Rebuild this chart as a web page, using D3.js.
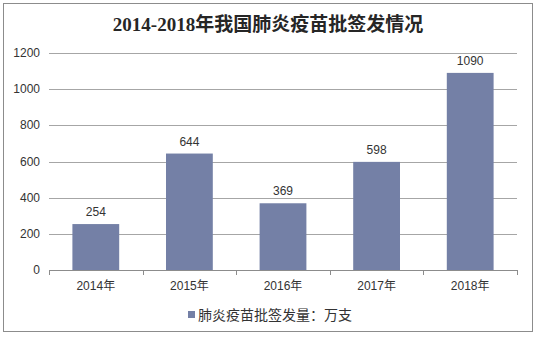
<!DOCTYPE html>
<html><head><meta charset="utf-8">
<script src="https://cdn.jsdelivr.net/npm/d3@7"></script>
<style>body{margin:0;background:#fff}svg{display:block}</style>
</head><body>
<svg id="c" width="537" height="338"></svg>
<script>
const categories = ["2014年","2015年","2016年","2017年","2018年"];
const values = [254, 644, 369, 598, 1090];
const yTicks = [0, 200, 400, 600, 800, 1000, 1200];
const title = "2014-2018年我国肺炎疫苗批签发情况";
const seriesName = "肺炎疫苗批签发量：万支";

const svg = d3.select("#c");
const sans = "Arial, 'Liberation Sans', 'Noto Sans CJK SC', sans-serif";
const color = "#7480a6";

svg.append("rect").attr("x",3.5).attr("y",3.5).attr("width",529).attr("height",328)
  .attr("fill","#fff").attr("stroke","#8c8c8c").attr("stroke-width",1);

svg.append("text").attr("x",268).attr("y",31).attr("text-anchor","middle")
  .attr("font-family","'Liberation Serif','Noto Sans CJK SC',serif").attr("font-weight","bold")
  .attr("font-size",19).attr("fill","#262626").text(title);

const x = d3.scaleBand().domain(categories).range([49,517]).paddingInner(0.5).paddingOuter(0.25);
const y = d3.scaleLinear().domain([0,1200]).range([270,53]);

// gridlines
svg.append("g").selectAll("line").data(yTicks.filter(d=>d>0)).join("line")
  .attr("x1",49).attr("x2",517).attr("y1",d=>Math.round(y(d))+0.5).attr("y2",d=>Math.round(y(d))+0.5)
  .attr("stroke","#a6a6a6");

// y labels
svg.append("g").selectAll("text").data(yTicks).join("text")
  .attr("x",40).attr("y",d=>y(d)+4).attr("text-anchor","end")
  .attr("font-family",sans).attr("font-size",12).attr("fill","#333").text(d=>d);

// bars
svg.append("g").selectAll("rect").data(values).join("rect")
  .attr("x",(d,i)=>x(categories[i])).attr("width",x.bandwidth())
  .attr("y",d=>y(d)).attr("height",d=>y(0)-y(d)).attr("fill",color);

// value labels
svg.append("g").selectAll("text").data(values).join("text")
  .attr("x",(d,i)=>x(categories[i])+x.bandwidth()/2).attr("y",d=>y(d)-8)
  .attr("text-anchor","middle").attr("font-family",sans).attr("font-size",12).attr("fill","#333").text(d=>d);

// x axis
const step = x.step();
const xa = svg.append("g");
xa.append("line").attr("x1",49).attr("x2",517).attr("y1",270.5).attr("y2",270.5).attr("stroke","#8c8c8c");
const bounds = d3.range(categories.length+1).map(i=>49 + i*(468/categories.length));
xa.selectAll("line.t").data(bounds).join("line").attr("class","t")
  .attr("x1",d=>Math.round(d)+0.5).attr("x2",d=>Math.round(d)+0.5).attr("y1",270).attr("y2",275).attr("stroke","#8c8c8c");
xa.selectAll("text").data(categories).join("text")
  .attr("x",d=>x(d)+x.bandwidth()/2).attr("y",290).attr("text-anchor","middle")
  .attr("font-family",sans).attr("font-size",12).attr("fill","#333").text(d=>d);

// legend
svg.append("rect").attr("x",188).attr("y",311).attr("width",7).attr("height",7).attr("fill",color);
svg.append("text").attr("x",198).attr("y",320).attr("font-family",sans).attr("font-size",14)
  .attr("fill","#333").text(seriesName);
</script>
</body></html>
